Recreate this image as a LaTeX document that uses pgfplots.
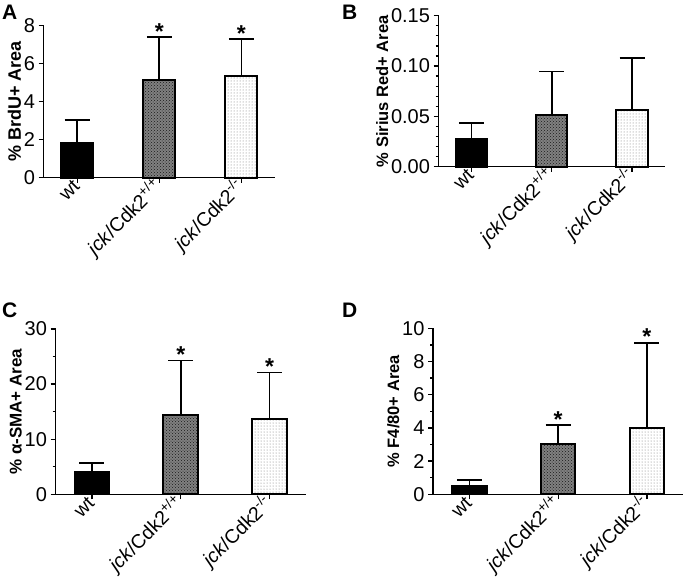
\documentclass[border=0pt]{standalone}
\usepackage{fontspec}
\setmainfont{Liberation Sans}
\usepackage{pgfplots}
\pgfplotsset{compat=1.18}
\usetikzlibrary{patterns}

\pgfplotsset{
 panel/.style={
   scale only axis,
   axis lines*=left,
   axis line style={line width=1.3pt, black},
   xmin=-0.41, xmax=2.41, ymin=0,
   xtick={0,1,2},
   xticklabels={wt, \textit{jck}/Cdk2\textsuperscript{+/+}, \textit{jck}/Cdk2\textsuperscript{-/-}},
   xticklabel style={rotate=45, anchor=east, font=\fontsize{19.5}{20}\selectfont, inner sep=1pt},
   yticklabel style={font=\fontsize{20}{21}\selectfont},
   tick align=outside,
   major tick length=5pt, minor tick length=3pt,
   every tick/.style={black, line width=1.3pt},
   /pgf/number format/assume math mode=true,
   ylabel style={font=\bfseries\fontsize{18}{18}\selectfont},
   ylabel shift=-4pt,
   anchor=north west,
   clip=false,
 },
 barA/.style={ybar, bar width=0.39, bar shift=0pt, draw=black, line width=2pt, fill=black,
   error bars/.cd, y dir=plus, y explicit,
   error bar style={line width=1.6pt, black},
   error mark options={rotate=90, mark size=12.5pt, line width=1.6pt, black}},
 barB/.style={ybar, bar width=0.39, bar shift=0pt, draw=black, line width=2pt, fill=black!50,
   postaction={pattern=crosshatch dots, pattern color=black!90},
   error bars/.cd, y dir=plus, y explicit,
   error bar style={line width=1.6pt, black},
   error mark options={rotate=90, mark size=12.5pt, line width=1.6pt, black}},
 barC/.style={ybar, bar width=0.39, bar shift=0pt, draw=black, line width=2pt, fill=white,
   postaction={pattern=dots, pattern color=black!55},
   error bars/.cd, y dir=plus, y explicit,
   error bar style={line width=1.6pt, black},
   error mark options={rotate=90, mark size=12.5pt, line width=1.6pt, black}},
}
\tikzset{starnode/.style={anchor=base, yshift=-2pt, inner sep=0pt, font=\bfseries\fontsize{23}{23}\selectfont}}

\begin{document}
\begin{tikzpicture}
\useasboundingbox (0pt,0pt) rectangle (685pt,-582pt);

% Panel letters
\node[anchor=north west, inner sep=0pt, font=\bfseries\fontsize{21}{21}\selectfont] at (2pt,-5pt) {A};
\node[anchor=north west, inner sep=0pt, font=\bfseries\fontsize{21}{21}\selectfont] at (342pt,-5pt) {B};
\node[anchor=north west, inner sep=0pt, font=\bfseries\fontsize{21}{21}\selectfont] at (2pt,-303pt) {C};
\node[anchor=north west, inner sep=0pt, font=\bfseries\fontsize{21}{21}\selectfont] at (342pt,-303pt) {D};

% Panel A
\begin{axis}[panel, at={(43.5pt,-25.7pt)}, width=231.5pt, height=152pt,
  ymax=8, ytick={0,2,4,6,8},
  ylabel={\% BrdU+ Area}]
\addplot[barA] coordinates {(0,1.8) +- (0,1.25)};
\addplot[barB] coordinates {(1,5.16) +- (0,2.24)};
\addplot[barC] coordinates {(2,5.33) +- (0,1.97)};
\node[starnode] at (axis cs:1,7.4) {*};
\node[starnode] at (axis cs:2,7.3) {*};
\end{axis}

% Panel B
\begin{axis}[panel, at={(438.5pt,-15.7pt)}, width=226.5pt, height=151pt,
  ymax=0.15, ytick={0,0.05,0.10,0.15}, minor y tick num=4,
  scaled y ticks=false,
  yticklabel style={/pgf/number format/.cd, fixed, fixed zerofill, precision=2},
  ylabel style={font=\bfseries\fontsize{16.5}{16.5}\selectfont},
  ylabel={\% Sirius Red+ Area}]
\addplot[barA] coordinates {(0,0.028) +- (0,0.0157)};
\addplot[barB] coordinates {(1,0.0515) +- (0,0.0429)};
\addplot[barC] coordinates {(2,0.0565) +- (0,0.0512)};
\end{axis}

% Panel C
\begin{axis}[panel, at={(55.5pt,-329pt)}, width=250.5pt, height=165.3pt,
  ymax=30, ytick={0,10,20,30}, minor y tick num=1,
  ylabel style={font=\bfseries\fontsize{17}{17}\selectfont},
  ylabel={\% α-SMA+ Area}]
\addplot[barA] coordinates {(0,4.05) +- (0,1.65)};
\addplot[barB] coordinates {(1,14.4) +- (0,9.9)};
\addplot[barC] coordinates {(2,13.6) +- (0,8.5)};
\node[starnode] at (axis cs:1,24.3) {*};
\node[starnode] at (axis cs:2,22.1) {*};
\end{axis}

% Panel D
\begin{axis}[panel, at={(433pt,-328.3pt)}, width=250.3pt, height=166pt,
  ymax=10, ytick={0,2,4,6,8,10}, minor y tick num=1,
  ylabel style={font=\bfseries\fontsize{16.5}{16.5}\selectfont},
  ylabel={\% F4/80+ Area}]
\addplot[barA] coordinates {(0,0.52) +- (0,0.35)};
\addplot[barB] coordinates {(1,3.02) +- (0,1.14)};
\addplot[barC] coordinates {(2,3.98) +- (0,5.15)};
\node[starnode] at (axis cs:1,4.16) {*};
\node[starnode] at (axis cs:2,9.13) {*};
\end{axis}
\end{tikzpicture}
\end{document}
